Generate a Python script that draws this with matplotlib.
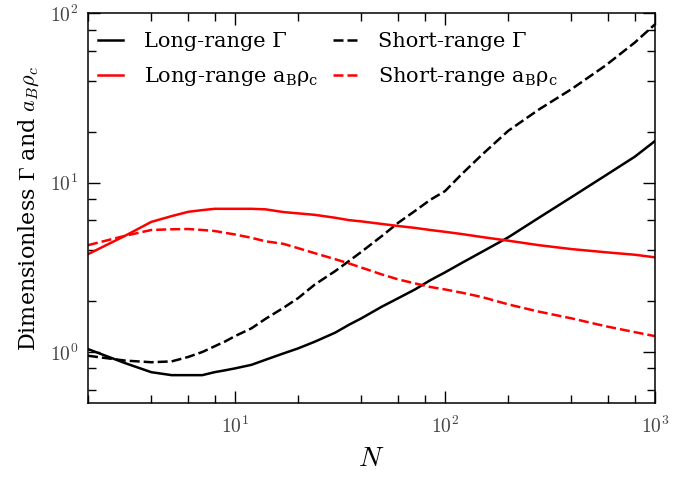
import matplotlib
matplotlib.use("Agg")
import matplotlib.pyplot as plt
from matplotlib.ticker import LogLocator, FuncFormatter, NullFormatter
import numpy as np

plt.rcParams['font.family'] = ['DejaVu Serif']
plt.rcParams['mathtext.fontset'] = 'cm'

# number of particles
N = [2, 3, 4, 5, 6, 7, 8, 9, 10, 12, 14, 17, 20, 24, 30, 35, 40, 50, 60, 72,
     85, 100, 120, 150, 200, 280, 400, 580, 800, 1000]

gamma_long = [1.04, 0.86, 0.76, 0.73, 0.73, 0.73, 0.76, 0.78, 0.80, 0.84, 0.90,
              0.98, 1.05, 1.15, 1.30, 1.45, 1.58, 1.85, 2.08, 2.34, 2.65, 2.95,
              3.35, 3.9, 4.75, 6.2, 8.2, 11.0, 14.2, 17.6]
gamma_short = [0.95, 0.89, 0.87, 0.88, 0.935, 1.0, 1.08, 1.155, 1.24, 1.38, 1.57,
               1.82, 2.08, 2.5, 3.0, 3.45, 3.9, 4.83, 5.8, 6.8, 7.9, 8.9,
               11.2, 14.6, 20.2, 27.0, 35.6, 49.0, 67.0, 86.0]
rho_long = [3.78, 4.85, 5.86, 6.34, 6.72, 6.88, 7.0, 7.0, 7.0, 7.0, 6.95, 6.7,
            6.58, 6.45, 6.2, 6.0, 5.9, 5.7, 5.54, 5.4, 5.25, 5.12, 4.97, 4.77,
            4.54, 4.27, 4.05, 3.88, 3.75, 3.62]
rho_short = [4.27, 4.85, 5.25, 5.3, 5.32, 5.25, 5.18, 5.05, 4.94, 4.72, 4.5,
             4.35, 4.1, 3.83, 3.53, 3.33, 3.15, 2.87, 2.68, 2.54, 2.42, 2.34,
             2.24, 2.11, 1.91, 1.73, 1.58, 1.42, 1.31, 1.24]

fig = plt.figure(figsize=(6.91, 4.87), dpi=100)
ax = fig.add_axes([0.1274, 0.1725, 0.8206, 0.8005])

dash = (0, (4.0, 1.6))
l1, = ax.plot(N, gamma_long, color='black', lw=1.8, label='Long-range Γ')
l2, = ax.plot(N, gamma_short, color='black', lw=1.8, ls=dash, label='Short-range Γ')
l3, = ax.plot(N, rho_long, color='red', lw=1.8, label=r'Long-range $\mathregular{a_B\rho_c}$')
l4, = ax.plot(N, rho_short, color='red', lw=1.8, ls=dash, label=r'Short-range $\mathregular{a_B\rho_c}$')

ax.set_xscale('log')
ax.set_yscale('log')
ax.set_xlim(2, 1000)
ax.set_ylim(0.5, 100)

for axis in (ax.xaxis, ax.yaxis):
    axis.set_major_locator(LogLocator(base=10))
    axis.set_minor_locator(LogLocator(base=10, subs=(2, 4, 6, 8)))
    axis.set_major_formatter(FuncFormatter(lambda v, p: r'$10^{%d}$' % round(np.log10(v))))
    axis.set_minor_formatter(NullFormatter())

ax.tick_params(which='both', direction='in', top=True, right=True, width=1.0,
               labelcolor='#444444', labelsize=14)
ax.tick_params(which='major', length=8.5)
ax.tick_params(which='minor', length=5.5)
ax.tick_params(axis='x', pad=9)
ax.tick_params(axis='y', pad=7)
for s in ax.spines.values():
    s.set_linewidth(1.1)

ax.set_xlabel(r'$N$', fontsize=20, labelpad=6)
ax.set_ylabel(r'Dimensionless $\Gamma$ and $a_B\rho_c$', fontsize=16, labelpad=6)

ax.legend(handles=[l1, l3, l2, l4], ncol=2, frameon=False, loc='upper left',
          bbox_to_anchor=(-0.005, 0.983), fontsize=15, handlelength=1.2,
          columnspacing=0.7, labelspacing=0.65, borderaxespad=0.2,
          borderpad=0.4, handletextpad=1.0)

fig.savefig('out.png', dpi=100)
